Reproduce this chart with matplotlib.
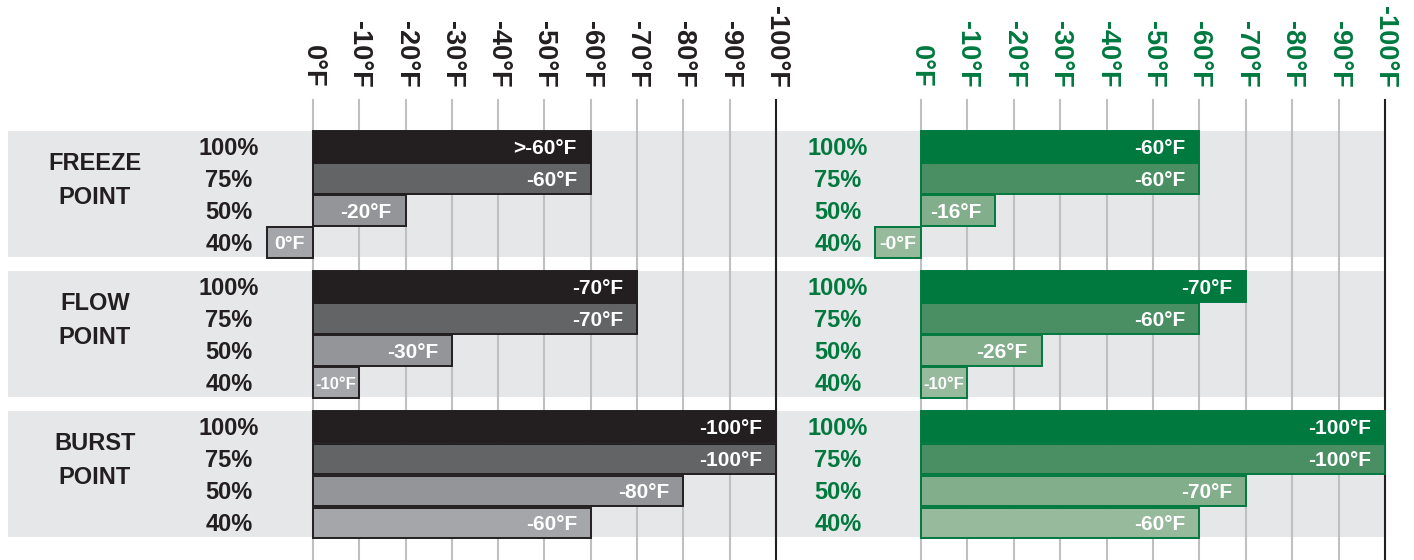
import matplotlib.pyplot as plt
from matplotlib.transforms import blended_transform_factory as blend

plt.rcParams['font.family'] = ['Liberation Sans', 'DejaVu Sans']
plt.rcParams['font.weight'] = 'bold'

groups = ['FREEZE\nPOINT', 'FLOW\nPOINT', 'BURST\nPOINT']
concentrations = ['100%', '75%', '50%', '40%']
ticks = [0, -10, -20, -30, -40, -50, -60, -70, -80, -90, -100]

left_values = [[-60, -60, -20, 0],
               [-70, -70, -30, -10],
               [-100, -100, -80, -60]]
left_labels = [['>-60°F', '-60°F', '-20°F', '0°F'],
               ['-70°F', '-70°F', '-30°F', '-10°F'],
               ['-100°F', '-100°F', '-80°F', '-60°F']]

right_values = [[-60, -60, -16, 0],
                [-70, -60, -26, -10],
                [-100, -100, -70, -60]]
right_labels = [['-60°F', '-60°F', '-16°F', '-0°F'],
                ['-70°F', '-60°F', '-26°F', '-10°F'],
                ['-100°F', '-100°F', '-70°F', '-60°F']]

black = '#231f20'
green = '#00793f'
left_fills = ['#231f20', '#636466', '#939598', '#a4a6a9']
right_fills = ['#00793f', '#4a8f63', '#82ae8b', '#97ba9d']

W, H = 1414, 560
fig = plt.figure(figsize=(W / 100, H / 100), dpi=100)

GAP = 4.375   # group spacing in rows
STUB = 10     # width of the box drawn for a 0°F value
DY = 0.06     # text sits a touch below the row centre


def px_axes(x0, x1, y0=100, y1=560):
    return fig.add_axes([x0 / W, 1 - y1 / H, (x1 - x0) / W, (y1 - y0) / H])


def draw_panel(ax, values, labels, fills, edge, tcolor, xmin, pct_x):
    ax.set_xlim(xmin, -100)
    ax.set_ylim(12.92, -1.453)
    ax.axis('off')
    for g in range(len(groups)):
        ax.axhspan(g * GAP - 0.5, g * GAP + 3.45, color='#e6e7e8', lw=0, zorder=0)
    top = blend(ax.transData, ax.transAxes)
    for t in ticks:
        ax.axvline(t, color=black if t == -100 else '#bfc0c2', lw=1.5,
                   zorder=1, clip_on=False)
        ax.text(t, 1.026, f'{t}°F', transform=top, rotation=-90,
                ha='center', va='bottom', fontsize=19.5, color=tcolor)
    pct = blend(fig.transFigure, ax.transData)
    for g in range(len(groups)):
        for r, c in enumerate(concentrations):
            y = g * GAP + r
            v = values[g][r]
            end = STUB if v == 0 else v
            ax.barh(y, end, height=0.94, color=fills[r], edgecolor=edge,
                    lw=1.4, zorder=2, clip_on=False)
            ax.text(pct_x / W, y + DY, c, transform=pct, ha='center',
                    va='center', fontsize=17, color=tcolor)
            if abs(end) <= 10:
                ax.text(end / 2, y + DY, labels[g][r], ha='center', va='center',
                        fontsize=14 if v == 0 else 12, color='white', zorder=3)
            else:
                ax.annotate(labels[g][r], xy=(v, y + DY), xytext=(-10, 0),
                            textcoords='offset points', ha='right', va='center',
                            fontsize=15, color='white', zorder=3)


ax_l = px_axes(8, 776)
ax_r = px_axes(776, 1385)
ax_l.set_zorder(2)
draw_panel(ax_l, left_values, left_labels, left_fills, black, black, 65.87, 229)
draw_panel(ax_r, right_values, right_labels, right_fills, green, green, 31.25, 838)

cat = blend(fig.transFigure, ax_l.transData)
for g, name in enumerate(groups):
    ax_l.text(95 / W, g * GAP + 1.06, name, transform=cat, ha='center',
              va='center', fontsize=17, color=black, linespacing=1.6)

fig.savefig('out.png', dpi=100)
